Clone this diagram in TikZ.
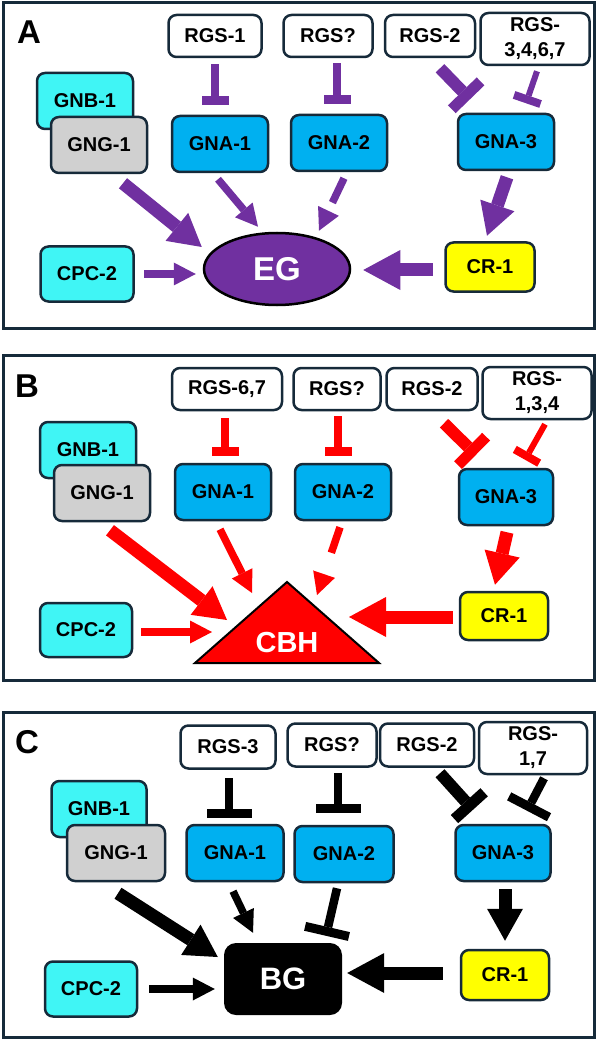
\documentclass[tikz,border=0pt]{standalone}
\usepackage{fontspec}
\setmainfont{Liberation Sans}
\usepackage{tikz}
\usetikzlibrary{
    shapes.geometric,
    arrows.meta
}
\definecolor{edgecol}{RGB}{22,42,58}
\definecolor{purp}{RGB}{112,48,160}
\definecolor{bhred}{RGB}{255,0,0}
\definecolor{gnbcyan}{RGB}{64,245,245}
\definecolor{gnablue}{RGB}{0,176,240}
\definecolor{gnggray}{RGB}{208,208,208}
\definecolor{cryellow}{RGB}{255,255,0}

\begin{document}
\begin{tikzpicture}[
            x=1pt, y=-1pt,
            panel/.style={draw=edgecol, line width=3pt},
            rgs_box/.style={rectangle, draw=edgecol, fill=white, line width=2.5pt, rounded corners=8pt, minimum width=91pt, minimum height=42pt, inner sep=0pt, align=center, text=black, font=\fontsize{20}{25}\selectfont\bfseries},
            rgs_two/.style={rgs_box, minimum width=109pt, minimum height=52pt},
            g_box/.style={rgs_box, fill=#1, minimum width=96pt, minimum height=56pt},
            panel_label/.style={inner sep=0pt, font=\fontsize{33}{33}\selectfont\bfseries},
            out_label/.style={inner sep=0pt, text=white, font=\fontsize{31}{31}\selectfont\bfseries},
            act_arrow/.style={-{Triangle[width=23pt, length=22pt, line width=0pt]}, line width=7.5pt},
            act_thick/.style={-{Triangle[width=36pt, length=32pt, line width=0pt]}, line width=13pt},
            act_big/.style={-{Triangle[width=40pt, length=37pt, line width=0pt]}, line width=13pt},
            act_dash/.style={act_arrow, dash pattern=on 27pt off 40pt},
            inh_arrow/.style={-{Rectangle[width=27pt, length=9pt, line width=0pt]}, line width=8pt},
            inh_thin/.style={-{Rectangle[width=28pt, length=8pt, line width=0pt]}, line width=6pt},
            inh_wide/.style={-{Rectangle[width=45pt, length=9pt, line width=0pt]}, line width=8.5pt},
            inh_thick/.style={-{Rectangle[width=40pt, length=11pt, line width=0pt]}, line width=12pt}
        ]
        \useasboundingbox (0,0) rectangle (597,1040);

        % panel A
        \draw[panel] (3,3) rectangle (594,328);
        \node[panel_label] (lbl_a) at (29,32) {A};
        \node[rgs_box, minimum width=93pt] (rgs1_a) at (215,36) {RGS-1};
        \node[rgs_box, minimum width=89pt] (rgsq_a) at (328,36) {RGS?};
        \node[rgs_box, minimum width=90pt] (rgs2_a) at (430,36) {RGS-2};
        \node[rgs_two] (rgs3467_a) at (535,39) {RGS-\\3,4,6,7};
        \node[g_box=gnbcyan] (gnb_a) at (85,101) {GNB-1};
        \node[g_box=gnggray] (gng_a) at (99,145) {GNG-1};
        \node[g_box=gnablue] (gna1_a) at (220,144) {GNA-1};
        \node[g_box=gnablue] (gna2_a) at (339,143) {GNA-2};
        \node[g_box=gnablue] (gna3_a) at (506,142) {GNA-3};
        \node[g_box=gnbcyan, minimum width=93pt, minimum height=55pt] (cpc_a) at (87,274) {CPC-2};
        \node[g_box=cryellow, minimum width=89pt, minimum height=49pt] (cr_a) at (490,267) {CR-1};
        \node[ellipse, draw=black, fill=purp, line width=2.5pt, minimum width=146pt, minimum height=72pt, out_label, font=\fontsize{33}{33}\selectfont\bfseries] (eg_a) at (277,269) {EG};

        \draw[inh_arrow, purp] ([shift={(0,6)}]rgs1_a.south) -- ([shift={(-5,-9.5)}]gna1_a.north);
        \draw[inh_arrow, purp] ([shift={(9,5)}]rgsq_a.south) -- ([shift={(-2,-10)}]gna2_a.north);
        \draw[inh_thick, purp] ([shift={(10,10)}]rgs2_a.south) -- ([shift={(-36,-13.5)}]gna3_a.north);
        \draw[inh_thin, purp] ([shift={(2,5)}]rgs3467_a.south) -- ([shift={(20,-9.5)}]gna3_a.north);
        \draw[act_thick, purp] ([shift={(24,9)}]gng_a.south) -- ([shift={(-1,-22)}]eg_a.west);
        \draw[act_arrow, purp] ([shift={(-2,6)}]gna1_a.south) -- ([shift={(-19,-5)}]eg_a.north);
        \draw[act_dash, purp] ([shift={(5,6)}]gna2_a.south) -- ([shift={(42,-1)}]eg_a.north);
        \draw[act_thick, purp] ([shift={(1,6)}]gna3_a.south) -- ([shift={(-3,-5.5)}]cr_a.north);
        \draw[act_big, purp] ([shift={(-11.5,3)}]cr_a.west) -- ([shift={(12,1)}]eg_a.east);
        \draw[act_arrow, purp] ([shift={(9.5,0)}]cpc_a.east) -- ([shift={(-7,5)}]eg_a.west);

        % panel B
        \draw[panel] (3,355) rectangle (594,680);
        \node[panel_label] (lbl_b) at (27,386) {B};
        \node[rgs_box, minimum width=110pt] (rgs67_b) at (227,389) {RGS-6,7};
        \node[rgs_box, minimum width=87pt] (rgsq_b) at (337,389) {RGS?};
        \node[rgs_box] (rgs2_b) at (432,389) {RGS-2};
        \node[rgs_two] (rgs134_b) at (537,393) {RGS-\\1,3,4};
        \node[g_box=gnbcyan] (gnb_b) at (88,450) {GNB-1};
        \node[g_box=gnggray] (gng_b) at (102,493) {GNG-1};
        \node[g_box=gnablue] (gna1_b) at (223,492) {GNA-1};
        \node[g_box=gnablue] (gna2_b) at (343,492) {GNA-2};
        \node[g_box=gnablue, minimum width=94pt] (gna3_b) at (506,497) {GNA-3};
        \node[g_box=gnbcyan, minimum width=92pt, minimum height=54pt] (cpc_b) at (86,630) {CPC-2};
        \node[g_box=cryellow, minimum width=88pt, minimum height=48pt] (cr_b) at (504,616) {CR-1};
        \draw[fill=bhred, draw=black, line width=2pt, line join=miter] (195,663) -- (287,582) -- (379,663) -- cycle;
        \node[out_label, font=\fontsize{29}{29}\selectfont\bfseries] (cbh_b) at (287,643) {CBH};

        \draw[inh_arrow, bhred] ([shift={(-2,7)}]rgs67_b.south) -- ([shift={(2,-7)}]gna1_b.north);
        \draw[inh_arrow, bhred] ([shift={(1,5)}]rgsq_b.south) -- ([shift={(-5,-7)}]gna2_b.north);
        \draw[inh_thick, bhred] ([shift={(12,12)}]rgs2_b.south) -- ([shift={(-30,-13)}]gna3_b.north);
        \draw[inh_thin, bhred] ([shift={(8,4)}]rgs134_b.south) -- ([shift={(19,-8)}]gna3_b.north);
        \draw[act_thick, bhred] ([shift={(8,8)}]gng_b.south) -- ([shift={(-60,-23)}]cbh_b.center);
        \draw[act_arrow, bhred] ([shift={(-3,8)}]gna1_b.south) -- ([shift={(-35,-50)}]cbh_b.center);
        \draw[act_dash, bhred] ([shift={(-3,6)}]gna2_b.south) -- ([shift={(30,-48)}]cbh_b.center);
        \draw[act_thick, bhred] ([shift={(1,6)}]gna3_b.south) -- ([shift={(-9,-6)}]cr_b.north);
        \draw[act_big, bhred] ([shift={(-6,1)}]cr_b.west) -- ([shift={(62,-26)}]cbh_b.center);
        \draw[act_arrow, bhred] ([shift={(8,2)}]cpc_b.east) -- ([shift={(-75,-11)}]cbh_b.center);

        % panel C
        \draw[panel] (3,712) rectangle (594,1037);
        \node[panel_label] (lbl_c) at (27,742) {C};
        \node[rgs_box, minimum width=95pt, minimum height=43pt] (rgs3_c) at (228,747) {RGS-3};
        \node[rgs_box, minimum width=89pt, minimum height=43pt] (rgsq_c) at (332,745) {RGS?};
        \node[rgs_box, minimum width=94pt, minimum height=43pt] (rgs2_c) at (427,745) {RGS-2};
        \node[rgs_two, minimum width=108pt] (rgs17_c) at (533,748) {RGS-\\1,7};
        \node[g_box=gnbcyan, minimum width=95pt] (gnb_c) at (99,809) {GNB-1};
        \node[g_box=gnggray, minimum width=98pt] (gng_c) at (116,853) {GNG-1};
        \node[g_box=gnablue, minimum width=97pt] (gna1_c) at (235,853) {GNA-1};
        \node[g_box=gnablue, minimum width=99pt] (gna2_c) at (344,854) {GNA-2};
        \node[g_box=gnablue, minimum width=95pt] (gna3_c) at (503,853) {GNA-3};
        \node[g_box=gnbcyan, minimum width=92pt, minimum height=55pt] (cpc_c) at (91,989) {CPC-2};
        \node[g_box=cryellow, minimum width=88pt, minimum height=50pt] (cr_c) at (505,975) {CR-1};
        \node[rectangle, fill=black, rounded corners=12pt, minimum width=118pt, minimum height=72pt, out_label] (bg_c) at (283,979) {BG};

        \draw[inh_wide, black] ([shift={(1,8.5)}]rgs3_c.south) -- ([shift={(-6,-6)}]gna1_c.north);
        \draw[inh_wide, black] ([shift={(6,5.5)}]rgsq_c.south) -- ([shift={(-6,-12)}]gna2_c.north);
        \draw[inh_thick, black] ([shift={(13,5.5)}]rgs2_c.south) -- ([shift={(-30,-14)}]gna3_c.north);
        \draw[inh_wide, black] ([shift={(11,3)}]rgs17_c.south) -- ([shift={(24,-13)}]gna3_c.north);
        \draw[act_thick, black] ([shift={(2,11)}]gng_c.south) -- ([shift={(-6,-22)}]bg_c.west);
        \draw[act_arrow, black] ([shift={(-2,9)}]gna1_c.south) -- ([shift={(-30,-10)}]bg_c.north);
        \draw[inh_wide, black] ([shift={(-7,5)}]gna2_c.south) -- ([shift={(43,-7)}]bg_c.north);
        \draw[act_thick, black] ([shift={(2,7)}]gna3_c.south) -- ([shift={(0,-8)}]cr_c.north);
        \draw[act_big, black] ([shift={(-17,-2)}]cr_c.west) -- ([shift={(5,-6)}]bg_c.east);
        \draw[act_arrow, black] ([shift={(11,0)}]cpc_c.east) -- ([shift={(-9,10)}]bg_c.west);

\end{tikzpicture}
\end{document}
